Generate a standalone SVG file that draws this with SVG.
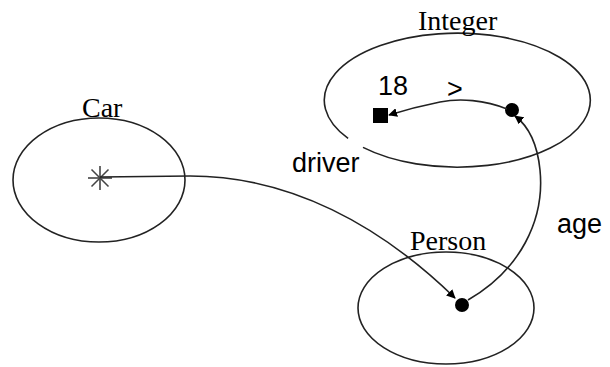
<svg xmlns="http://www.w3.org/2000/svg" width="610" height="367" viewBox="0 0 610 367">
<style>
.ell{fill:none;stroke:#222;stroke-width:1.6}
.edge{fill:none;stroke:#222;stroke-width:1.6}
.serif{font-family:"Liberation Serif","Times New Roman",serif;font-size:28px;fill:#000}
.sans{font-family:"Liberation Sans",Arial,sans-serif;font-size:27px;fill:#000}
</style>
<defs>
<marker id="arr" viewBox="0 0 10 10" refX="9" refY="5" markerWidth="9" markerHeight="9" markerUnits="userSpaceOnUse" orient="auto">
<path d="M0,0 L10,5 L0,10 z" fill="#000"/>
</marker>
</defs>
<rect width="610" height="367" fill="#fff"/>
<g id="car">
<ellipse class="ell" cx="99" cy="180" rx="86" ry="62"/>
<text class="serif" x="82" y="117">Car</text>
<g stroke="#444" stroke-width="1.6">
<line x1="88" y1="178" x2="112" y2="178"/>
<line x1="100" y1="166" x2="100" y2="190"/>
<line x1="91.5" y1="169.5" x2="108.5" y2="186.5"/>
<line x1="91.5" y1="186.5" x2="108.5" y2="169.5"/>
</g>
</g>
<g id="integer">
<path class="ell" d="M348.1,138.4 A133,67 0 1 1 363,147.4"/>
<text class="serif" x="418" y="30">Integer</text>
<rect x="373" y="108" width="15" height="15" fill="#000"/>
<circle cx="512" cy="110" r="7" fill="#000"/>
<text class="sans" x="378" y="95">18</text>
<text class="sans" x="447" y="98">&gt;</text>
</g>
<g id="person">
<ellipse class="ell" cx="446" cy="308" rx="88" ry="56"/>
<text class="serif" x="410" y="250">Person</text>
<circle cx="462" cy="305" r="7" fill="#000"/>
</g>
<g id="connectors">
<path class="edge" d="M100,177 L190,176 C290,176 380,225 455,298" marker-end="url(#arr)"/>
<text class="sans" x="292" y="172">driver</text>
<path class="edge" d="M468,300 C520,270 545,220 540,170 C537,140 527,125 515,116" marker-end="url(#arr)"/>
<text class="sans" x="557" y="233">age</text>
<path class="edge" d="M507,109 C485,100 460,98 440,102 C420,106 405,110 389,115" marker-end="url(#arr)"/>
</g>
</svg>
